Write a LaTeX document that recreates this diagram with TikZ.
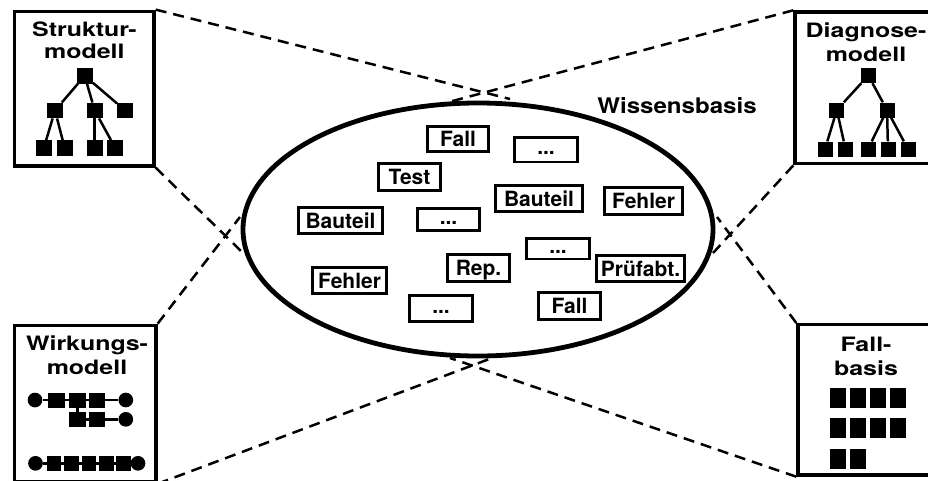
\documentclass[tikz,border=0pt]{standalone}
\usepackage{fontspec}
\setmainfont{TeX Gyre Heros}
\newfontfamily\titlefont{TeX Gyre Heros}[FakeStretch=1.26]
\newfontfamily\kbfont{TeX Gyre Heros}[FakeStretch=1.12]
\usetikzlibrary{shapes.geometric}
\begin{document}
\begin{tikzpicture}[x=1pt,y=-1pt,
  cbox/.style={draw, line width=3.4pt, inner sep=0pt, rectangle},
  title/.style={anchor=base, inner sep=0pt, font=\titlefont\bfseries\fontsize{19.8}{23}\selectfont},
  kb/.style={draw, line width=2.7pt, inner sep=0pt, font=\bfseries\fontsize{21}{25}\selectfont, text height=15.1pt, text depth=0pt},
  dots/.style={kb, text height=10pt},
  conn/.style={line width=2.5pt, dash pattern=on 11pt off 7pt},
  edge/.style={line width=2.5pt},
  sqS/.style={fill=black, inner sep=0pt, minimum width=16pt, minimum height=15.5pt},
  sqD/.style={fill=black, inner sep=0pt, minimum width=15pt, minimum height=15pt},
  sqW/.style={fill=black, inner sep=0pt, minimum width=16.5pt, minimum height=15pt},
  sqB/.style={fill=black, inner sep=0pt, minimum width=14.5pt, minimum height=15pt},
  sqF/.style={fill=black, inner sep=0pt, minimum width=16.7pt, minimum height=20pt},
  rnd/.style={circle, fill=black, inner sep=0pt, minimum size=14.7pt}
]
\useasboundingbox (0,0) rectangle (928,480);
\clip (0,0) rectangle (928,480);

% corner boxes
\node[cbox, minimum width=139.3pt, minimum height=154.7pt] (tl) at (84.35,88.65) {};
\node[cbox, minimum width=142pt, minimum height=151.7pt] (tr) at (866,87.85) {};
\node[cbox, minimum width=141.3pt, minimum height=156.7pt] (bl) at (85.35,403.65) {};
\node[cbox, minimum width=136pt, minimum height=150.3pt] (br) at (866,399.85) {};

% titles
\node[title] (tlt1) at (84.35,36) {Struktur-};
\node[title] (tlt2) at (84.35,58) {modell};
\node[title] (trt1) at (866,37.3) {Diagnose-};
\node[title] (trt2) at (866,61) {modell};
\node[title] (blt1) at (87,350) {Wirkungs-};
\node[title] (blt2) at (87,374) {modell};
\node[title] (brt1) at (866,351) {Fall-};
\node[title] (brt2) at (866,375) {basis};

% knowledge base ellipse
\node[ellipse, draw, fill=white, line width=4.8pt, inner sep=0pt,
      minimum width=470pt, minimum height=253pt] (kb) at (478,229.5) {};
\node[anchor=base, inner sep=0pt, font=\kbfont\bfseries\fontsize{21.5}{25}\selectfont] (kbt) at (677,113) {Wissensbasis};

% connector end points at the ellipse
\coordinate (eA) at (510,99);
\coordinate (eB) at (445,103);
\coordinate (eL1) at (242,252);
\coordinate (eL2) at (240,217);
\coordinate (eR1) at (713,253);
\coordinate (eR2) at (717,217);
\coordinate (eC) at (492,358);
\coordinate (eD) at (450,358);

\draw[conn] (tl.north east) -- (eA);
\draw[conn] (tr.north west) -- (eB);
\draw[conn] (tl.south east) -- (eL1);
\draw[conn] (bl.north east) -- (eL2);
\draw[conn] (tr.south west) -- (eR1);
\draw[conn] (br.north west) -- (eR2);
\draw[conn] (bl.south east) -- (eC);
\draw[conn] (br.south west) -- (eD);

% items of the knowledge base
\node[kb, minimum width=61.4pt, minimum height=24.4pt] (fallA) at (458,139) {Fall};
\node[dots, minimum width=63.4pt, minimum height=24.7pt] (dotsA) at (546,149.5) {...};
\node[kb, minimum width=62.4pt, minimum height=27.4pt] (test) at (409.5,177) {Test};
\node[kb, minimum width=84.4pt, minimum height=26.4pt] (bauteilA) at (340.5,220.5) {Bauteil};
\node[dots, minimum width=62.4pt, minimum height=22.4pt] (dotsB) at (448.5,219.5) {...};
\node[kb, minimum width=87.4pt, minimum height=26.4pt] (bauteilB) at (539,198.5) {Bauteil};
\node[kb, minimum width=78.4pt, minimum height=27.4pt] (fehlerA) at (643.5,201) {Fehler};
\node[dots, minimum width=63.4pt, minimum height=20.7pt] (dotsC) at (558,248.5) {...};
\node[kb, minimum width=62.4pt, minimum height=27.4pt] (rep) at (478.5,268) {Rep.};
\node[kb, minimum width=88.4pt, minimum height=26.4pt] (pruef) at (640.5,268.5) {Prüfabt.};
\node[kb, minimum width=74.4pt, minimum height=26.4pt] (fehlerB) at (349.5,280.5) {Fehler};
\node[dots, minimum width=63.4pt, minimum height=26.4pt] (dotsD) at (441,308.5) {...};
\node[kb, minimum width=62.4pt, minimum height=27.4pt] (fallB) at (569.5,306) {Fall};

% Strukturmodell tree
\node[sqS] (s0) at (84.7,75.8) {};
\node[sqS] (s1) at (55,110.5) {};
\node[sqS] (s2) at (94.7,110.5) {};
\node[sqS] (s3) at (125.3,110.5) {};
\node[sqS] (s11) at (43.8,148) {};
\node[sqS] (s12) at (64.7,148) {};
\node[sqS] (s21) at (94.7,148) {};
\node[sqS] (s22) at (115.3,148) {};
\draw[edge] (s0) -- (s1);
\draw[edge] (s0) -- (s2);
\draw[edge] (s0) -- (s3);
\draw[edge] (s1) -- (s11);
\draw[edge] (s1) -- (s12);
\draw[edge] (s2) -- (s21);
\draw[edge] (s2) -- (s22);

% Diagnosemodell tree
\node[sqD] (d0) at (868.3,75.5) {};
\node[sqD] (d1) at (836.8,110) {};
\node[sqD] (d2) at (887,110) {};
\node[sqD] (d11) at (825,149) {};
\node[sqD] (d12) at (845.5,149) {};
\node[sqD] (d21) at (868,149) {};
\node[sqD] (d22) at (888,149) {};
\node[sqD] (d23) at (908,149) {};
\draw[edge] (d0) -- (d1);
\draw[edge] (d0) -- (d2);
\draw[edge] (d1) -- (d11);
\draw[edge] (d1) -- (d12);
\draw[edge] (d2) -- (d21);
\draw[edge] (d2) -- (d22);
\draw[edge] (d2) -- (d23);

% Wirkungsmodell chains
\node[rnd] (c11) at (35,400) {};
\node[sqW] (w11) at (56.7,400) {};
\node[sqW] (w12) at (77.7,400) {};
\node[sqW] (w13) at (97.2,400) {};
\node[rnd] (c12) at (125.8,400) {};
\node[sqW] (w21) at (77.7,419.3) {};
\node[sqW] (w22) at (97.2,419.3) {};
\node[rnd] (c22) at (125.8,419.3) {};
\draw[edge] (c11) -- (c12);
\draw[edge] (w12) -- (w21);
\draw[edge] (w21) -- (c22);
\node[rnd] (c31) at (35.5,463.3) {};
\node[sqB] (w31) at (54,463.3) {};
\node[sqB] (w32) at (71.5,463.3) {};
\node[sqB] (w33) at (89,463.3) {};
\node[sqB] (w34) at (106.5,463.3) {};
\node[sqB] (w35) at (123.5,463.3) {};
\node[rnd] (c32) at (138,463.3) {};
\draw[edge] (c31) -- (c32);

% Fallbasis
\node[sqF] (f1) at (838,398.3) {};
\node[sqF] (f2) at (858,398.3) {};
\node[sqF] (f3) at (878,398.3) {};
\node[sqF] (f4) at (898,398.3) {};
\node[sqF] (f5) at (838,428.3) {};
\node[sqF] (f6) at (858,428.3) {};
\node[sqF] (f7) at (878,428.3) {};
\node[sqF] (f8) at (898,428.3) {};
\node[sqF] (f9) at (838,459.3) {};
\node[sqF] (f10) at (858,459.3) {};
\end{tikzpicture}
\end{document}
